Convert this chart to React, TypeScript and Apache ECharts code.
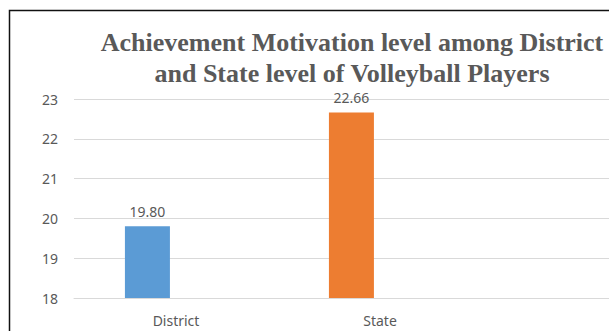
import React, { useEffect, useRef } from "react";
import * as echarts from "echarts";

const categories = ["District", "State", ""];
const values = [19.8, 22.66, null];
const barColors = ["#5B9BD5", "#ED7D31", "#A5A5A5"];
const placeholder = [null, null, null];
const titleLines = [
  "Achievement Motivation level among District",
  "and State level of Volleyball Players",
];

export default function App() {
  const ref = useRef<HTMLDivElement>(null);
  useEffect(() => {
    if (!ref.current) return;
    const chart = echarts.init(ref.current, undefined, { renderer: "svg" });
    const textFont = "'Noto Sans', 'Open Sans', sans-serif";
    chart.setOption({
      animation: false,
      backgroundColor: "#ffffff",
      graphic: [
        {
          type: "rect",
          shape: { x: 9.5, y: 10.5, width: 800, height: 400 },
          style: { fill: "none", stroke: "#111111", lineWidth: 1.5 },
          silent: true,
        },
        {
          type: "text",
          x: 352,
          y: 27,
          style: {
            text: titleLines.join("\n"),
            textAlign: "center",
            textVerticalAlign: "top",
            font: "bold 26px 'Liberation Serif', 'Times New Roman', serif",
            lineHeight: 31,
            fill: "#595959",
          },
        },
      ],
      grid: {
        left: 74,
        width: 612,
        top: 99,
        bottom: 33,
        containLabel: false,
        outerBoundsMode: "none",
      },
      xAxis: {
        type: "category",
        data: categories,
        axisLine: { show: true, lineStyle: { color: "#D9D9D9", width: 1 } },
        axisTick: { show: false },
        axisLabel: {
          margin: 15,
          color: "#595959",
          fontSize: 14,
          fontFamily: textFont,
          interval: 0,
        },
        splitLine: { show: false },
      },
      yAxis: {
        type: "value",
        min: 18,
        max: 23,
        interval: 1,
        axisLine: { show: false },
        axisTick: { show: false },
        axisLabel: {
          margin: 16,
          color: "#595959",
          fontSize: 14,
          fontFamily: textFont,
        },
        splitLine: { show: true, lineStyle: { color: "#D9D9D9", width: 1 } },
      },
      series: [
        {
          type: "bar",
          data: values.map((v, i) => ({
            value: v,
            itemStyle: { color: barColors[i] },
          })),
          barWidth: 45,
          barGap: "27%",
          label: {
            show: true,
            position: "top",
            distance: 8,
            color: "#595959",
            fontSize: 14,
            fontFamily: textFont,
            formatter: (p: any) => Number(p.value).toFixed(2),
          },
        },
        {
          type: "bar",
          data: placeholder,
          barWidth: 45,
          itemStyle: { color: "#A5A5A5" },
        },
      ],
    });
    return () => chart.dispose();
  }, []);
  return (
    <div
      ref={ref}
      style={{ position: "fixed", left: 0, top: 0, width: 609, height: 331 }}
    />
  );
}
